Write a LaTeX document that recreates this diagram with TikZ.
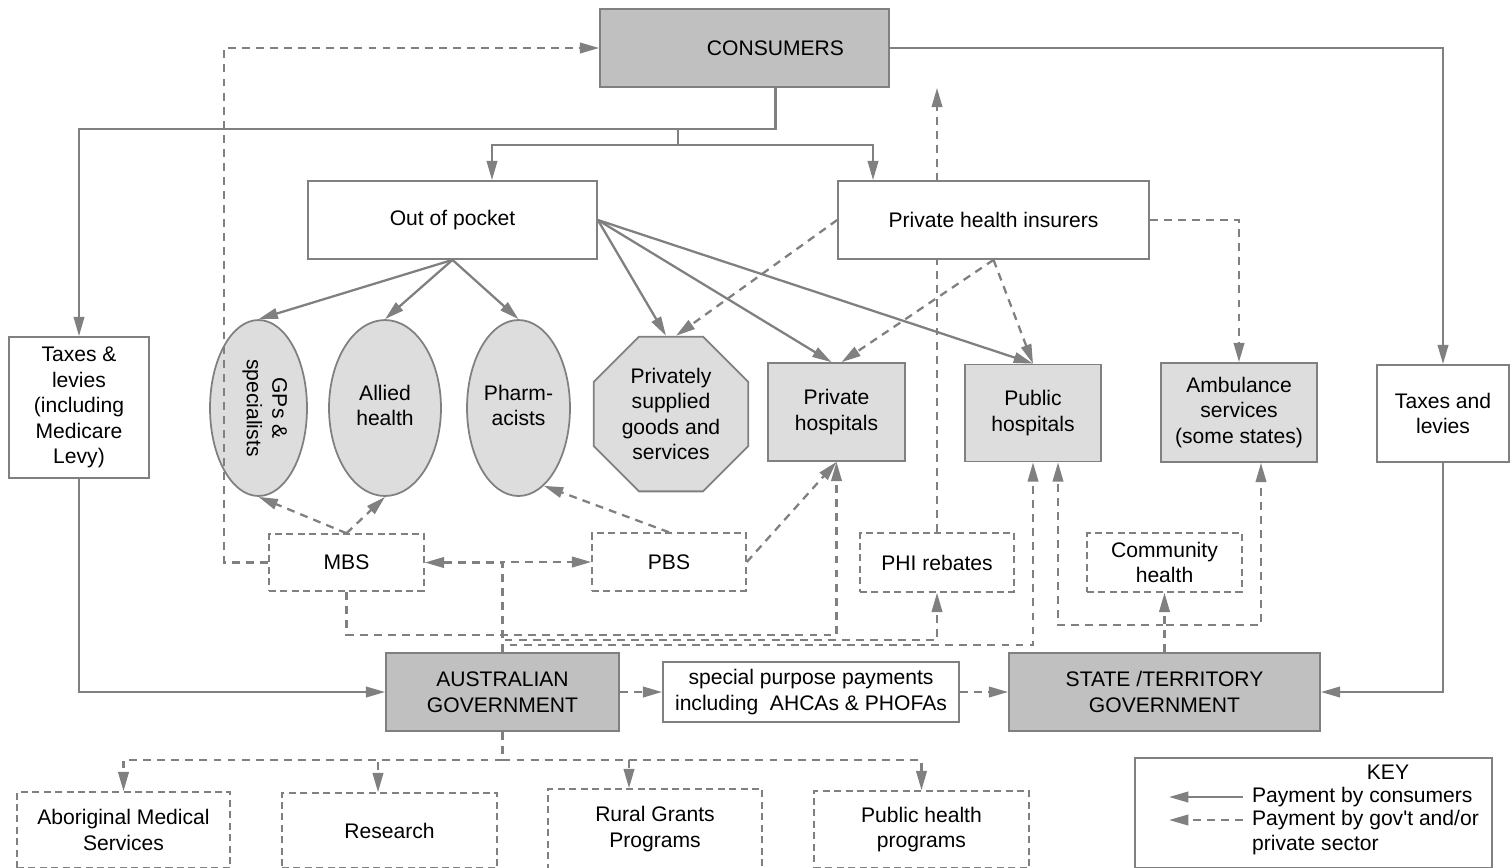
\documentclass[tikz,border=0pt]{standalone}
\usepackage{fontspec}
\setmainfont{Liberation Sans}[Ligatures=TeXOff]
\usetikzlibrary{arrows.meta,shapes.geometric,backgrounds}
\definecolor{edgegray}{RGB}{128,128,128}
\definecolor{darkfill}{RGB}{192,192,192}
\definecolor{lightfill}{RGB}{221,221,221}

\begin{document}
\begin{tikzpicture}[x=0.02cm,y=-0.02cm,>={Triangle[length=11pt,width=6pt]},
    every node/.style={font=\fontsize{12}{14.5}\selectfont,align=center,inner sep=1pt},
    box/.style={draw=edgegray,line width=1pt,fill=white},
    dark/.style={box,fill=darkfill},
    light/.style={box,fill=lightfill},
    dbox/.style={draw=edgegray,line width=0.9pt,dash pattern=on 4pt off 2.5pt,fill=white},
    oval/.style={light,ellipse,inner sep=0pt},
    pay/.style={color=edgegray,line width=1.3pt},
    gov/.style={pay,dash pattern=on 4.5pt off 3.5pt}]
  \useasboundingbox (0,0) rectangle (1510,867);

  \node[dark,minimum width=5.78cm,minimum height=1.56cm]  (cons)   at (744.5,48)   {\hspace*{1.24cm}CONSUMERS};
  \node[box,minimum width=5.78cm,minimum height=1.56cm]   (oop)    at (452.5,220)  {Out of pocket};
  \node[box,minimum width=6.22cm,minimum height=1.56cm]   (phi)    at (993.5,220)  {Private health insurers};
  \node[box,minimum width=2.8cm,minimum height=2.82cm]    (taxl)   at (79,407.5)   {Taxes \&\\levies\\(including\\Medicare\\Levy)};
  \node[oval,minimum width=1.94cm,minimum height=3.52cm]  (gps)    at (258.5,408)  {\hspace*{0.25cm}\rotatebox{-90}{\begin{tabular}{@{}c@{}}GPs \&\\specialists\end{tabular}}};
  \node[oval,minimum width=2.24cm,minimum height=3.52cm]  (allied) at (385,408)    {\raisebox{0.14cm}{\begin{tabular}{@{}c@{}}Allied\\health\end{tabular}}};
  \node[oval,minimum width=2.06cm,minimum height=3.52cm]  (pharm)  at (518.5,408)  {\raisebox{0.14cm}{\begin{tabular}{@{}c@{}}Pharm-\\acists\end{tabular}}};
  \node[light,regular polygon,regular polygon sides=8,minimum size=3.35cm,inner sep=0pt] (octo) at (671,414) {Privately\\supplied\\goods and\\services};
  \node[light,minimum width=2.74cm,minimum height=1.96cm] (privh)  at (836.5,412)  {Private\\hospitals};
  \node[light,minimum width=2.72cm,minimum height=1.94cm] (pubh)   at (1033,413)   {Public\\hospitals};
  \node[light,minimum width=3.12cm,minimum height=1.98cm] (amb)    at (1239,412.5) {Ambulance\\services\\(some states)};
  \node[box,minimum width=2.64cm,minimum height=1.94cm]   (taxr)   at (1443,413.5) {Taxes and\\levies};
  \node[dbox,minimum width=3.1cm,minimum height=1.14cm]   (mbs)    at (346.5,562.5) {MBS};
  \node[dbox,minimum width=3.08cm,minimum height=1.16cm]  (pbs)    at (669,562)    {PBS};
  \node[dbox,minimum width=3.08cm,minimum height=1.18cm]  (phireb) at (937,562.5)  {PHI rebates};
  \node[dbox,minimum width=3.1cm,minimum height=1.18cm]   (comm)   at (1164.5,562.5) {Community\\health};
  \node[dark,minimum width=4.66cm,minimum height=1.56cm]  (ausgov) at (502.5,692)  {AUSTRALIAN\\GOVERNMENT};
  \node[box,minimum width=5.92cm,minimum height=1.2cm]    (spp)    at (811,692)    {special purpose payments\\including~ AHCAs \& PHOFAs};
  \node[dark,minimum width=6.22cm,minimum height=1.56cm]  (state)  at (1164.5,692) {STATE /TERRITORY\\GOVERNMENT};
  \node[dbox,minimum width=4.26cm,minimum height=1.52cm]  (abor)   at (123.5,830)  {Aboriginal Medical\\Services};
  \node[dbox,minimum width=4.3cm,minimum height=1.5cm]    (res)    at (389.5,830.5) {Research};
  \node[dbox,minimum width=4.28cm,minimum height=1.6cm]   (rural)  at (655,829)    {Rural Grants\\Programs};
  \node[dbox,minimum width=4.3cm,minimum height=1.54cm]   (pubhp)  at (921.5,829.5) {Public health\\programs};

  \node[box,minimum width=7.14cm,minimum height=2.2cm]    (key)    at (1313.5,813) {};
  \node (keyt) at (1388,772) {KEY};
  \node[anchor=west] (k1) at (1250,797) {Payment by consumers};
  \node[anchor=west] (k2) at (1250,820) {Payment by gov't and/or};
  \node[anchor=west] (k3) at (1250,845) {private sector};
  \coordinate (k1e) at (1169,797);
  \coordinate (k2e) at (1169,820);

  \coordinate (split) at (678,129);
  \coordinate (fork)  at (678,145);
  \coordinate (bar)   at (502.5,760);

  \draw[pay,->] ([xshift=0.62cm]cons.south) |- (split) -| (taxl.north);
  \draw[pay,->] (split) -- (fork) -| ([xshift=0.79cm]oop.north);
  \draw[pay,->] (fork) -| ([xshift=-2.41cm]phi.north);
  \draw[pay,->] (cons.east) -| (taxr.north);
  \draw[pay,->] (taxl.south) |- (ausgov.west);
  \draw[pay,->] (taxr.south) |- (state.east);
  \path[pay,->]
        (oop.south) edge (gps.north)
                    edge (allied.north)
                    edge (pharm.north)
        (oop.east)  edge ([xshift=-0.1cm]octo.north)
                    edge ([xshift=-0.1cm]privh.north)
                    edge (pubh.north);

  \path[gov,->]
        (phi.west)  edge ([xshift=0.1cm]octo.north)
        (phi.south) edge ([xshift=0.1cm]privh.north)
                    edge (pubh.north)
        (mbs.north) edge (gps.south)
                    edge (allied.south)
        (pbs.north) edge (pharm.-72)
        (pbs.east)  edge (privh.south)
        (ausgov.east) edge (spp.west)
        (spp.east)  edge (state.west)
        (state.north) edge (comm.south);
  \draw[gov,->] (phi.east) -| (amb.north);
  \draw[gov,->] (mbs.west) -- ++(-44,0) |- (cons.west);
  \draw[gov,->] (ausgov.north) |- (mbs.east);
  \draw[gov,->] (ausgov.north) |- (pbs.west);
  \draw[gov,->] (mbs.south) -- ++(0,43) -| (privh.south);
  \draw[gov,->] (ausgov.north) -- ++(0,-12) -| (phireb.south);
  \draw[gov,->] (ausgov.north) -- ++(0,-7) -| (pubh.south);
  \draw[gov,->] (state.north) -- ++(0,-27) -| ([xshift=0.5cm]pubh.south);
  \draw[gov,->] (state.north) -- ++(0,-27) -| ([xshift=0.44cm]amb.south);
  \draw[gov,->] (ausgov.south) -- (bar) -| (abor.north);
  \draw[gov,->] (ausgov.south) -- (bar) -| ([xshift=-0.23cm]res.north);
  \draw[gov,->] (ausgov.south) -- (bar) -| ([xshift=-0.52cm]rural.north);
  \draw[gov,->] (ausgov.south) -- (bar) -| (pubhp.north);
  \begin{pgfonlayer}{background}
    \draw[gov,->] (phireb.north) -- (phireb.north |- cons.south);
  \end{pgfonlayer}

  \draw[pay,->,shorten <=4pt] (k1.west) -- (k1e);
  \draw[gov,->,shorten <=4pt] (k2.west) -- (k2e);
\end{tikzpicture}
\end{document}
